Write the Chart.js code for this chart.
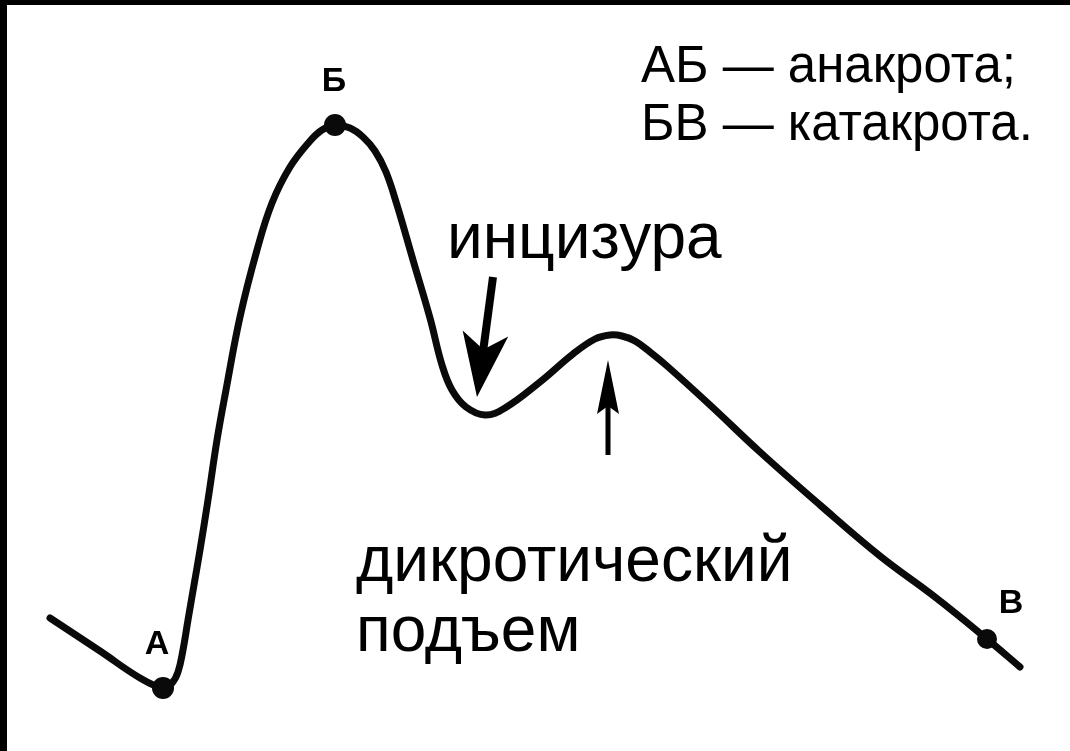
<!DOCTYPE html>
<html>
<head>
<meta charset="utf-8">
<script src="https://cdn.jsdelivr.net/npm/chart.js"></script>
<style>
  html, body { margin: 0; padding: 0; background: #fff; }
  #wrap { position: relative; width: 1070px; height: 751px; }
  .frameTop { position: absolute; left: 0; top: 0; width: 1070px; height: 5px; background: #000; }
  .frameLeft { position: absolute; left: 0; top: 0; width: 7px; height: 751px; background: #000; }
</style>
</head>
<body>
<div id="wrap">
  <canvas id="pulseChart" width="1070" height="751"></canvas>
  <div class="frameTop"></div>
  <div class="frameLeft"></div>
</div>
<script>
// ===================
// Data (arbitrary units)
// ===================

const timeVals = [50, 100, 140, 163, 172, 178, 183, 188, 194, 200, 208, 217, 226, 240, 257, 272, 290, 310, 322, 335,
  350, 363, 375, 386, 397, 413, 430, 442, 452, 466, 485, 505, 540, 573, 595, 610, 622, 635, 650, 667,
  710, 760, 820, 880, 935, 987, 1020];
const pressureVals = [133, 100, 73, 63, 68, 79, 101, 131, 166, 201, 251, 311, 361, 434, 501, 548, 584, 610, 621, 626,
  623, 614, 600, 579, 546, 491, 433, 386, 361, 344, 336, 343, 369, 397, 412, 416, 415, 410, 399, 385,
  346, 299, 246, 195, 154, 112, 84];

// key points А, Б, В (indexes into the series)
const keyNames = ['А', 'Б', 'В'];
const keyIndex = [3, 19, 45];
const keyRadius = [11, 11, 10];

const legendLines = ['АБ — анакрота;', 'БВ — катакрота.'];

// ===================
// Chart
// ===================

const curve = timeVals.map(function (t, i) { return { x: t, y: pressureVals[i] }; });
const keyPoints = keyIndex.map(function (i) { return { x: timeVals[i], y: pressureVals[i] }; });

function drawArrow(ctx, x0, y0, x1, y1, shaftW, headLen, headHalf, notch) {
  const ang = Math.atan2(y1 - y0, x1 - x0);
  const len = Math.hypot(x1 - x0, y1 - y0);
  ctx.save();
  ctx.translate(x0, y0);
  ctx.rotate(ang);
  ctx.fillStyle = '#000';
  ctx.fillRect(0, -shaftW / 2, len - headLen + notch + 2, shaftW);
  ctx.beginPath();
  ctx.moveTo(len, 0);
  ctx.lineTo(len - headLen, -headHalf);
  ctx.lineTo(len - headLen + notch, 0);
  ctx.lineTo(len - headLen, headHalf);
  ctx.closePath();
  ctx.fill();
  ctx.restore();
}

const annotations = {
  id: 'annotations',
  afterDatasetsDraw: function (chart) {
    const ctx = chart.ctx;
    const xs = chart.scales.x;
    const ys = chart.scales.y;

    // letters next to key points
    const meta = chart.getDatasetMeta(1);
    const offs = [[-6, -43], [-1, -43], [24, -35]];
    ctx.save();
    ctx.fillStyle = '#000';
    ctx.font = 'bold 34px "Liberation Sans", Arial, sans-serif';
    ctx.textAlign = 'center';
    ctx.textBaseline = 'middle';
    meta.data.forEach(function (pt, i) {
      ctx.fillText(keyNames[i], pt.x + offs[i][0], pt.y + offs[i][1]);
    });

    // text labels
    ctx.textAlign = 'left';
    ctx.textBaseline = 'alphabetic';
    ctx.font = '51px "Liberation Sans", Arial, sans-serif';
    ctx.fillText(legendLines[0], 641, 82);
    ctx.fillText(legendLines[1], 641, 140);
    ctx.font = '64px "Liberation Sans", Arial, sans-serif';
    ctx.fillText('инцизура', 447, 258);
    ctx.fillText('дикротический', 356, 581);
    ctx.fillText('подъем', 356, 651);
    ctx.restore();

    // arrows, anchored in data units
    drawArrow(ctx, xs.getPixelForValue(493), ys.getPixelForValue(474),
      xs.getPixelForValue(477), ys.getPixelForValue(354), 8, 64, 23, 16);
    drawArrow(ctx, xs.getPixelForValue(608), ys.getPixelForValue(296),
      xs.getPixelForValue(608), ys.getPixelForValue(391), 5, 54, 11, 8);
  }
};

var ctx = document.getElementById('pulseChart').getContext('2d');
var chart = new Chart(ctx, {
  type: 'scatter',
  data: {
    datasets: [{
      data: curve,
      showLine: true,
      borderColor: '#0a0a0a',
      borderWidth: 7,
      borderCapStyle: 'round',
      borderJoinStyle: 'round',
      tension: 0.4,
      pointRadius: 0,
      clip: false
    }, {
      data: keyPoints,
      showLine: false,
      pointRadius: keyRadius,
      backgroundColor: '#0a0a0a',
      borderWidth: 0,
      clip: false
    }]
  },
  options: {
    responsive: false,
    animation: false,
    layout: { padding: 0, autoPadding: false },
    plugins: { legend: { display: false }, tooltip: { enabled: false } },
    scales: {
      x: { type: 'linear', display: false, min: 0, max: 1070 },
      y: { type: 'linear', display: false, min: 0, max: 751 }
    }
  },
  plugins: [annotations]
});
</script>
</body>
</html>
